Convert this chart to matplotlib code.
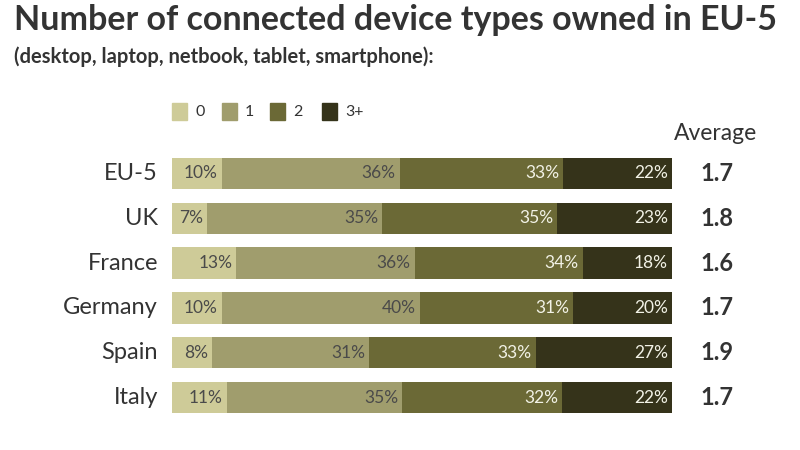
import matplotlib
matplotlib.use("Agg")
import matplotlib.pyplot as plt
from matplotlib.patches import Rectangle
import numpy as np

countries = ["EU-5", "UK", "France", "Germany", "Spain", "Italy"]
categories = ["0", "1", "2", "3+"]
share_0 = [10, 7, 13, 10, 8, 11]
share_1 = [36, 35, 36, 40, 31, 35]
share_2 = [33, 35, 34, 31, 33, 32]
share_3 = [22, 23, 18, 20, 27, 22]
averages = ["1.7", "1.8", "1.6", "1.7", "1.9", "1.7"]

colors = ["#cecb98", "#a09d6d", "#6b6936", "#35331a"]
label_colors = ["#4a4a4a", "#4a4a4a", "#f2f2e6", "#f2f2e6"]

FONT = "Lato"
plt.rcParams["font.family"] = [FONT, "DejaVu Sans"]

W, H = 800, 450
fig = plt.figure(figsize=(8, 4.5), dpi=100)
fig.patch.set_facecolor("white")

def fx(px):
    return px / W

def fy(py):
    return 1 - py / H

ax = fig.add_axes([fx(172), fy(420), fx(672) - fx(172), fy(151) - fy(420)])
ax.set_xlim(0, 1)
ax.set_ylim(5.5, -0.5)
ax.axis("off")

data = np.array([share_0, share_1, share_2, share_3], dtype=float)
totals = data.sum(axis=0)
y = np.arange(len(countries))
bar_h = 0.7
left = np.zeros(len(countries))
for k in range(4):
    w = data[k] / totals
    ax.barh(y, w, left=left, height=bar_h, color=colors[k], edgecolor="none")
    for i in range(len(countries)):
        xr = left[i] + w[i] - 0.008
        ax.text(xr, y[i], f"{int(data[k][i])}%", ha="right", va="center",
                fontsize=12.5, color=label_colors[k])
    left += w

for i, c in enumerate(countries):
    ax.text(-0.028, y[i], c, ha="right", va="center", fontsize=17, color="#333333")
    ax.text(1.056, y[i], averages[i], ha="left", va="center", fontsize=17,
            fontweight="bold", color="#333333")

fig.text(fx(674), fy(133), "Average", ha="left", va="center", fontsize=16.5, color="#333333")

# legend
lx = [172, 222, 270, 322]
for k, cat in enumerate(categories):
    fig.patches.append(Rectangle((fx(lx[k]), fy(120)), 15 / W, 17 / H,
                                 transform=fig.transFigure, color=colors[k]))
    fig.text(fx(lx[k] + 23), fy(112), cat, ha="left", va="center",
             fontsize=11.5, color="#333333")

fig.text(fx(14), fy(20), "Number of connected device types owned in EU-5",
         ha="left", va="center", fontsize=24.5, fontweight="bold", color="#333333")
fig.text(fx(14), fy(57), "(desktop, laptop, netbook, tablet, smartphone):",
         ha="left", va="center", fontsize=14.5, fontweight="bold", color="#333333")

fig.savefig("out.png", dpi=100, facecolor="white")
